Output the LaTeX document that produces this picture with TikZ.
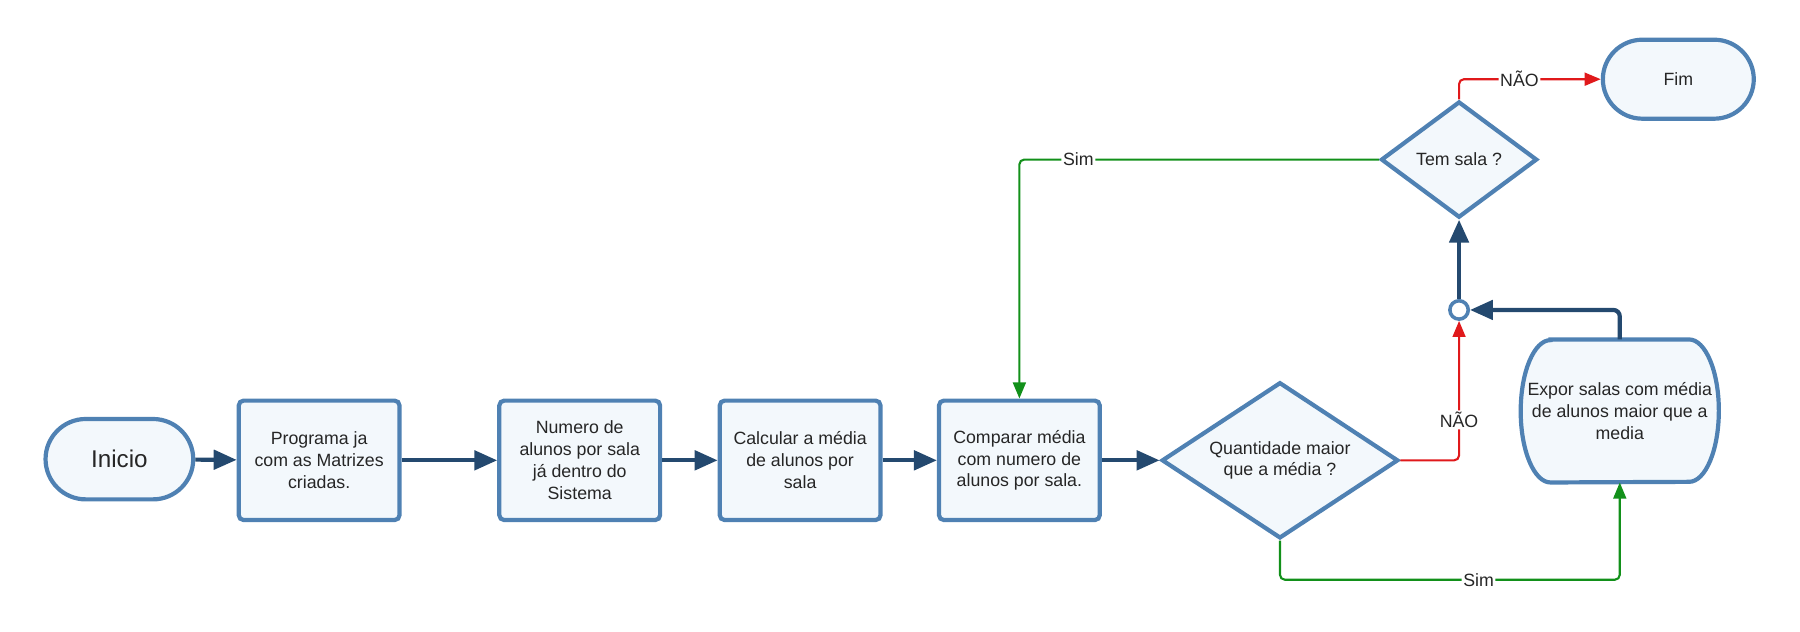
\documentclass[tikz,border=0pt]{standalone}
\usepackage{fontspec}
\setmainfont{Liberation Sans}
\usetikzlibrary{shapes}
\usetikzlibrary{positioning}
\usetikzlibrary{arrows.meta}
\usetikzlibrary{backgrounds}
\definecolor{boxline}{HTML}{4F81B3}
\definecolor{boxfill}{HTML}{F3F8FC}
\definecolor{flowline}{HTML}{24496F}
\definecolor{naoline}{HTML}{E0191B}
\definecolor{simline}{HTML}{12901A}
\tikzset{
    procnode/.style = {rectangle, rounded corners=3pt, line width=2.6pt, draw=boxline, fill=boxfill, align=center, minimum width=3.5cm, minimum height=2.6cm, font=\fontsize{11}{13.5}\selectfont, text=black!85},
    termnode/.style = {rounded rectangle, line width=2.6pt, draw=boxline, fill=boxfill, align=center, minimum width=3.4cm, minimum height=1.75cm, font=\fontsize{11}{13.5}\selectfont, text=black!85},
    decnode/.style = {diamond, aspect=1.5, line width=2.6pt, draw=boxline, fill=boxfill, align=center, inner sep=0pt, font=\fontsize{11}{13.5}\selectfont, text=black!85},
    joinnode/.style = {circle, line width=2.2pt, draw=boxline, fill=white, minimum size=0.4cm, inner sep=0pt},
    edgen/.style = {-{Triangle[length=0.5cm,width=0.42cm]}, line width=2.6pt, flowline, rounded corners=4pt},
    edger/.style = {-{Triangle[length=0.35cm,width=0.28cm]}, line width=1.3pt, naoline, rounded corners=3pt},
    edgeg/.style = {-{Triangle[length=0.35cm,width=0.28cm]}, line width=1.3pt, simline, rounded corners=3pt},
    lbl/.style = {fill=white, inner sep=1pt, text=black!85, font=\fontsize{11}{13}\selectfont}
}
\begin{document}
\begin{tikzpicture}[x=0.025cm, y=-0.025cm]
\useasboundingbox (0,0) rectangle (1568,550);
% main row
\node[termnode, minimum width=3.45cm, font=\fontsize{15}{17}\selectfont] at (104, 400) (ini) {Inicio};
\node[procnode] at (278, 401) (prog) {Programa ja\\com as Matrizes\\criadas.};
\node[procnode] at (505, 401) (num) {Numero de\\alunos por sala\\já dentro do\\Sistema};
\node[procnode] at (697, 401) (calc) {Calcular a média\\de alunos por\\sala};
\node[procnode] at (888, 401) (comp) {Comparar média\\com numero de\\alunos por sala.};
\node[decnode, minimum width=5.15cm, minimum height=3.4cm] at (1115, 401) (qtd) {Quantidade maior\\que a média ?};
% right part
\node[draw=none, align=center, minimum width=4.3cm, minimum height=3.1cm, inner sep=0pt, font=\fontsize{11}{13.5}\selectfont, text=black!85] at (1411, 358) (expor) {Expor salas com média\\de alunos maior que a\\media};
\node[joinnode] at (1271, 270) (jn) {};
\node[decnode, aspect=1.35, minimum width=3.4cm, minimum height=2.53cm] at (1271, 139) (tem) {Tem sala ?};
\node[termnode, minimum width=3.52cm, minimum height=1.72cm] at (1462, 69) (fim) {Fim};
\coordinate (simlow) at (1288, 505);
%
\begin{scope}[on background layer]
\draw[line width=2.6pt, draw=boxline, fill=boxfill] ([xshift=0.65cm]expor.north west) -- ([xshift=-0.65cm]expor.north east) arc[start angle=90, end angle=-90, x radius=0.65cm, y radius=1.55cm] -- ([xshift=0.65cm]expor.south west) arc[start angle=270, end angle=90, x radius=0.65cm, y radius=1.55cm] -- cycle;
\end{scope}
%
\draw[edgen] (ini) -- (prog);
\draw[edgen] (prog) -- (num);
\draw[edgen] (num) -- (calc);
\draw[edgen] (calc) -- (comp);
\draw[edgen] (comp) -- (qtd);
\draw[edger] (qtd.east) -| node[lbl, pos=0.645] {NÃO} (jn.south);
\draw[edgeg] (qtd.south) |- (simlow) node[lbl] {Sim} -| (expor.south);
\draw[edgen] (expor.north) |- (jn.east);
\draw[edgen] (jn.north) -- (tem.south);
\draw[edgeg] (tem.west) -| node[lbl, pos=0.418] {Sim} (comp.north);
\draw[edger] (tem.north) |- node[lbl, pos=0.713] {NÃO} (fim.west);
\end{tikzpicture}
\end{document}
